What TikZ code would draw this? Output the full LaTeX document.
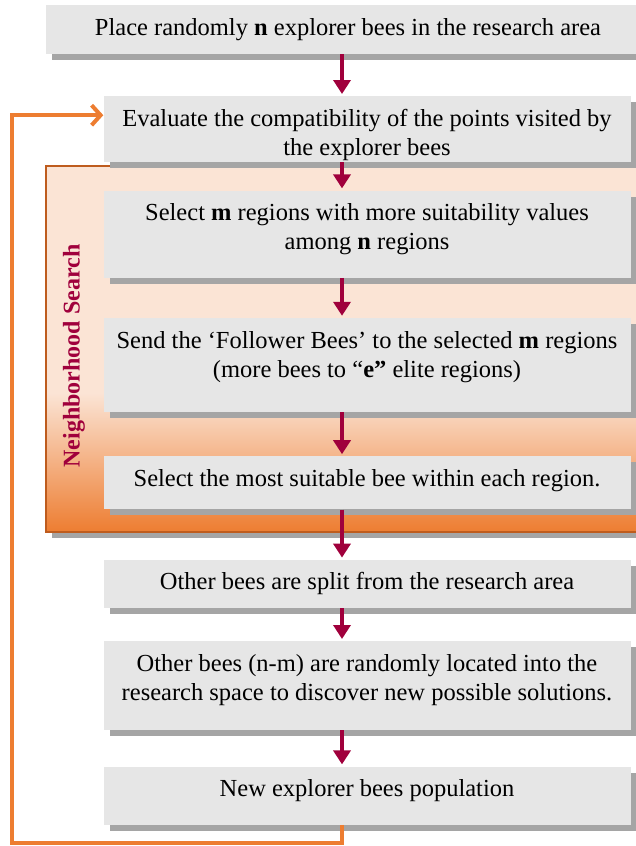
\documentclass[tikz,border=0pt]{standalone}
\usepackage{fontspec}
\setmainfont{Liberation Serif}
\usepackage{tikz}
\usetikzlibrary{positioning}
\usetikzlibrary{shadows, arrows.meta}
\definecolor{beeRed}{RGB}{160,0,60}
\definecolor{beeOrange}{RGB}{237,125,49}
\definecolor{beePeach}{RGB}{251,228,213}
\definecolor{beeBrown}{RGB}{190,92,30}
\definecolor{boxGray}{RGB}{230,230,230}
\definecolor{shadowGray}{RGB}{165,165,165}
\pgfdeclareverticalshading{neighborShade}{100bp}{color(0bp)=(beeOrange); color(25bp)=(beeOrange); color(44bp)=(beePeach); color(100bp)=(beePeach)}
\tikzstyle{box} = [fill=boxGray, align=center, inner sep=0pt, minimum width=527pt, text height=30pt, font=\fontsize{24.5}{29}\selectfont, drop shadow={shadow xshift=6pt, shadow yshift=-6pt, fill=shadowGray, opacity=1}]
\tikzstyle{twoline} = [text height=59pt]
\tikzstyle{arrow} = [line width=4pt, beeRed, -{Triangle[width=17pt,length=14pt]}]
\tikzstyle{loop} = [line width=4pt, beeOrange, -{Straight Barb[length=9pt,width=20pt]}]

\begin{document}
\begin{tikzpicture}[x=1pt, y=-1pt]
	\useasboundingbox (0,0) rectangle (636,846);

	%Neighborhood area
	\fill[shadowGray] (52,172) rectangle (656,538);
	\draw[beeBrown, line width=1.5pt, shading=neighborShade] (46,166) rectangle (650,532);
	\node[rotate=90, text=beeRed, font=\bfseries\fontsize{24}{28}\selectfont] (neighborLabel) at (74,356) {Neighborhood Search};

	%Nodes
	\node[box, anchor=north, minimum width=604pt, text depth=19pt] (placeBees) at (348,5) {Place randomly \textbf{n} explorer bees in the research area};
	\node[box, twoline, anchor=north, text depth=7pt] (evalPoints) at (367,96) {Evaluate the compatibility of the points visited by\\the explorer bees};
	\node[box, twoline, text depth=28pt, below=28pt of evalPoints] (selectRegions) {Select \textbf{m} regions with more suitability values\\among \textbf{n} regions};
	\node[box, twoline, text depth=35pt, below=40pt of selectRegions] (sendFollowers) {Send the ‘Follower Bees’ to the selected \textbf{m} regions\\(more bees to “\textbf{e”} elite regions)};
	\node[box, text depth=23pt, below=44pt of sendFollowers] (selectBest) {Select the most suitable bee within each region.};
	\node[box, text depth=18pt, below=50pt of selectBest] (splitBees) {Other bees are split from the research area};
	\node[box, twoline, text depth=30pt, below=33pt of splitBees] (randomBees) {Other bees (n-m) are randomly located into the\\research space to discover new possible solutions.};
	\node[box, text depth=28pt, below=36pt of randomBees] (newPopulation) {New explorer bees population};

	%Coordinates
	\coordinate (spine) at (342,0);
	\coordinate (loopCorner) at (12,843);

	%Arrows
	\draw[arrow] (placeBees.south -| spine) -- ([yshift=2pt]evalPoints.north -| spine);
	\draw[arrow] (evalPoints.south -| spine) -- ([yshift=2pt]selectRegions.north -| spine);
	\draw[arrow] (selectRegions.south -| spine) -- ([yshift=2pt]sendFollowers.north -| spine);
	\draw[arrow] (sendFollowers.south -| spine) -- ([yshift=2pt]selectBest.north -| spine);
	\draw[arrow] (selectBest.south -| spine) -- ([yshift=2pt]splitBees.north -| spine);
	\draw[arrow] (splitBees.south -| spine) -- ([yshift=2pt]randomBees.north -| spine);
	\draw[arrow] (randomBees.south -| spine) -- ([yshift=2pt]newPopulation.north -| spine);
	\draw[loop] (newPopulation.south -| spine) |- (loopCorner) |- ([yshift=14pt]evalPoints.west);
\end{tikzpicture}
\end{document}
